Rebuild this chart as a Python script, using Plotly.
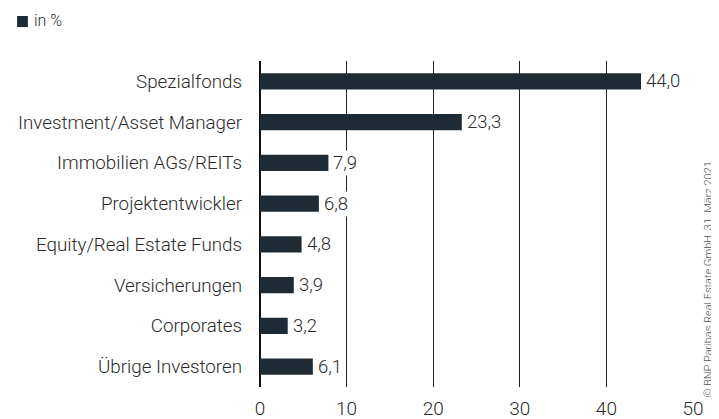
import plotly.graph_objects as go

categories = ["Spezialfonds", "Investment/Asset Manager", "Immobilien AGs/REITs",
              "Projektentwickler", "Equity/Real Estate Funds", "Versicherungen",
              "Corporates", "Übrige Investoren"]
values = [44.0, 23.3, 7.9, 6.8, 4.8, 3.9, 3.2, 6.1]
labels = [f"{v:.1f}".replace(".", ",") for v in values]
tick_vals = [0, 10, 20, 30, 40, 50]

bar_color = "#1e2b35"
font_family = "Roboto"
text_color = "#2b2b2b"
light = 300

fig = go.Figure()
fig.add_trace(go.Bar(
    x=values, y=categories, orientation="h",
    marker=dict(color=bar_color, line=dict(width=0)),
    width=0.4, showlegend=False,
))

for v, c, t in zip(values, categories, labels):
    fig.add_annotation(x=v, y=c, text=t, showarrow=False, xanchor="left",
                       xshift=3, bgcolor="white", borderpad=1,
                       font=dict(family=font_family, size=18.5, color=text_color, weight=light))

fig.update_layout(
    width=711, height=411,
    margin=dict(l=252, r=26, t=53, b=32),
    paper_bgcolor="white", plot_bgcolor="white",
    xaxis=dict(range=[0, 50], tickvals=tick_vals, showgrid=True,
               gridcolor="#222222", gridwidth=1, zeroline=True,
               zerolinecolor="#111111", zerolinewidth=2,
               tickfont=dict(family=font_family, size=19, color=text_color, weight=light),
               ticks="", showline=False, fixedrange=True, automargin=False,
               ticklabelstandoff=8),
    yaxis=dict(autorange="reversed", ticks="", showgrid=False,
               tickfont=dict(family=font_family, size=18.8, color=text_color, weight=light),
               ticklabelstandoff=17, fixedrange=True, automargin=False),
    shapes=[dict(type="rect", xref="paper", yref="paper", x0=-0.561, x1=-0.536,
                 y0=1.104, y1=1.138, fillcolor=bar_color, line=dict(width=0))],
)
fig.add_annotation(xref="paper", yref="paper", x=-0.526, y=1.123, text="in %",
                   showarrow=False, xanchor="left", yanchor="middle",
                   font=dict(family=font_family, size=16, color=text_color, weight=light))
fig.add_annotation(xref="paper", yref="paper", x=1.035, y=0.33,
                   text="© BNP Paribas Real Estate GmbH, 31. März 2021",
                   showarrow=False, textangle=-90, xanchor="center", yanchor="middle",
                   font=dict(family=font_family, size=11, color="#555555", weight=light))

fig.write_html("out.html")
